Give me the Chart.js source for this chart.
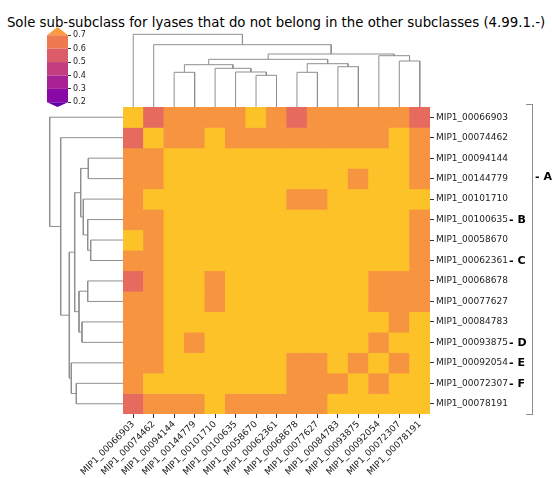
<!DOCTYPE html>
<html lang="en">
<head>
  <meta charset="UTF-8">
  <title>Sole sub-subclass for lyases (4.99.1.-)</title>
  <style>
    body { margin: 0; width: 552px; height: 478px; position: relative; background: #fff; overflow: hidden; font-family: "DejaVu Sans", sans-serif; }
    canvas { position: absolute; }
    #title { position: absolute; left: 0; top: 15px; width: 552px; line-height: 16px; text-align: center; font-size: 13.3px; color: #000; white-space: nowrap; }
    .tag { position: absolute; font-weight: bold; font-size: 11px; line-height: 12px; color: #000; white-space: nowrap; }
    #bracket { position: absolute; left: 526px; top: 104px; width: 6px; height: 309px; border: 1.3px solid #8c8c8c; border-left: none; }
  </style>
</head>
<body>
  <div id="title">Sole sub-subclass for lyases that do not belong in the other subclasses (4.99.1.-)</div>
  <canvas id="heat" style="left:0;top:0" width="552" height="478"></canvas>
  <canvas id="topTree" style="left:123px;top:30px" width="307" height="77"></canvas>
  <canvas id="leftTree" style="left:40px;top:107px" width="83" height="307"></canvas>
  <canvas id="cbar" style="left:47px;top:24px" width="60" height="89"></canvas>
  <div id="bracket"></div>
  <div class="tag" style="left:535px;top:171px">- A</div>
  <div class="tag" style="left:509px;top:214px">- B</div>
  <div class="tag" style="left:509px;top:255px">- C</div>
  <div class="tag" style="left:509px;top:337px">- D</div>
  <div class="tag" style="left:509px;top:357px">- E</div>
  <div class="tag" style="left:509px;top:378px">- F</div>

  <script src="https://cdn.jsdelivr.net/npm/chart.js"></script>
  <script>
    // leaf order (same for rows and columns)
    const names = ['MIP1_00066903','MIP1_00074462','MIP1_00094144','MIP1_00144779','MIP1_00101710',
                   'MIP1_00100635','MIP1_00058670','MIP1_00062361','MIP1_00068678','MIP1_00077627',
                   'MIP1_00084783','MIP1_00093875','MIP1_00092054','MIP1_00072307','MIP1_00078191'];

    // similarity values, one row per name
    const similarity = [
      [.75,.55,.65,.65,.65,.65,.75,.65,.55,.65,.65,.65,.65,.65,.55],
      [.55,.75,.65,.65,.75,.65,.65,.65,.65,.65,.65,.65,.65,.75,.65],
      [.65,.65,.75,.75,.75,.75,.75,.75,.75,.75,.75,.75,.75,.75,.65],
      [.65,.65,.75,.75,.75,.75,.75,.75,.75,.75,.75,.65,.75,.75,.65],
      [.65,.75,.75,.75,.75,.75,.75,.75,.65,.65,.75,.75,.75,.75,.75],
      [.65,.65,.75,.75,.75,.75,.75,.75,.75,.75,.75,.75,.75,.75,.65],
      [.75,.65,.75,.75,.75,.75,.75,.75,.75,.75,.75,.75,.75,.75,.65],
      [.65,.65,.75,.75,.75,.75,.75,.75,.75,.75,.75,.75,.75,.75,.65],
      [.55,.65,.75,.75,.65,.75,.75,.75,.75,.75,.75,.75,.65,.65,.65],
      [.65,.65,.75,.75,.65,.75,.75,.75,.75,.75,.75,.75,.65,.65,.65],
      [.65,.65,.75,.75,.75,.75,.75,.75,.75,.75,.75,.75,.75,.65,.75],
      [.65,.65,.75,.65,.75,.75,.75,.75,.75,.75,.75,.75,.65,.75,.75],
      [.65,.65,.75,.75,.75,.75,.75,.75,.65,.65,.75,.65,.75,.65,.75],
      [.65,.75,.75,.75,.75,.75,.75,.75,.65,.65,.65,.75,.65,.75,.75],
      [.55,.65,.65,.65,.75,.65,.65,.65,.65,.65,.75,.75,.75,.75,.75]
    ];

    // linkage: [childA, childB, distance]; leaves 0..14, new nodes from 15
    const colLinks = [[6,7,3.17],[2,3,3.47],[8,9,3.47],[5,15,3.50],[4,18,3.87],[10,11,4.03],[16,19,4.23],
                      [17,20,4.33],[13,14,4.60],[21,22,4.77],[12,23,5.13],[24,25,5.30],[1,26,6.23],[0,27,7.27]];
    const rowLinks = [[6,7,3.23],[2,3,3.47],[5,15,3.53],[8,9,3.53],[4,17,3.97],[10,11,4.10],[16,19,4.23],
                      [18,20,4.40],[13,14,4.67],[21,22,4.83],[12,23,5.17],[24,25,5.37],[1,26,6.23],[0,27,7.33]];

    // colour bar
    const cbTicks = [0.2, 0.3, 0.4, 0.5, 0.6, 0.7];
    const cbColors = ['#8a08a5', '#a82296', '#c43e7f', '#db5b69', '#ee7a52'];
    const cbUnder = '#6400a7';
    const cbOver = '#f99b3e';

    function cellColor(v) {
      if (v >= 0.7) return '#fcc228';
      if (v >= 0.6) return '#f7943f';
      return '#e66b5e';
    }

    const treeColor = '#8f8f8f';

    function treeSegments(links, n) {
      const pos = [], hgt = [];
      for (let i = 0; i < n; i++) { pos.push(i + 0.5); hgt.push(0); }
      const segs = [];
      links.forEach(([a, b, h]) => {
        segs.push([[pos[a], hgt[a]], [pos[a], h], [pos[b], h], [pos[b], hgt[b]]]);
        pos.push((pos[a] + pos[b]) / 2);
        hgt.push(h);
      });
      return segs;
    }

    const base = { responsive: false, animation: false, plugins: { legend: { display: false }, tooltip: { enabled: false } } };

    // heat map: one stacked bar dataset per row
    new Chart(document.getElementById('heat'), {
      type: 'bar',
      data: {
        labels: names,
        datasets: similarity.map((row, i) => ({
          label: names[i],
          data: row.map(() => 1),
          backgroundColor: row.map(cellColor),
          borderWidth: 0,
          barPercentage: 1,
          categoryPercentage: 1
        }))
      },
      options: {
        ...base,
        layout: { padding: { left: 123, top: 107, right: 0, bottom: 0 } },
        scales: {
          x: {
            stacked: true,
            afterFit: s => { s.height = 64; },
            grid: { offset: false, drawOnChartArea: false, tickLength: 4, color: '#333' },
            border: { display: false },
            ticks: { autoSkip: false, minRotation: 45, maxRotation: 45, padding: 1, color: '#222', font: { family: 'DejaVu Sans', size: 9 } }
          },
          y: {
            stacked: true,
            position: 'right',
            min: 0, max: 15, reverse: true,
            afterFit: s => { s.width = 122; },
            afterBuildTicks: s => { s.ticks = names.map((_, i) => ({ value: i + 0.5 })); },
            grid: { drawOnChartArea: false, tickLength: 4, color: '#333' },
            border: { display: false },
            ticks: { autoSkip: false, padding: 2, color: '#222', font: { family: 'DejaVu Sans', size: 9 },
                     callback: (v, i) => names[i] }
          }
        }
      }
    });

    // column dendrogram
    new Chart(document.getElementById('topTree'), {
      type: 'scatter',
      data: {
        datasets: treeSegments(colLinks, names.length).map(seg => ({
          data: seg.map(([p, h]) => ({ x: p, y: h })),
          showLine: true, pointRadius: 0, borderColor: treeColor, borderWidth: 1, clip: false
        }))
      },
      options: {
        ...base,
        layout: { padding: 0 },
        scales: {
          x: { type: 'linear', min: 0, max: 15, display: false },
          y: { type: 'linear', min: 0, max: 7.7, display: false }
        }
      }
    });

    // row dendrogram
    new Chart(document.getElementById('leftTree'), {
      type: 'scatter',
      data: {
        datasets: treeSegments(rowLinks, names.length).map(seg => ({
          data: seg.map(([p, h]) => ({ x: h, y: p })),
          showLine: true, pointRadius: 0, borderColor: treeColor, borderWidth: 1, clip: false
        }))
      },
      options: {
        ...base,
        layout: { padding: 0 },
        scales: {
          x: { type: 'linear', min: 0, max: 8.3, reverse: true, display: false },
          y: { type: 'linear', min: 0, max: 15, reverse: true, display: false }
        }
      }
    });

    // colour bar: bands and the two extension triangles
    const cbSets = cbColors.map((c, i) => ({
      data: [{ x: 0, y: cbTicks[i + 1] }, { x: 1, y: cbTicks[i + 1] }],
      fill: { value: cbTicks[i] }, backgroundColor: c, borderWidth: 0, pointRadius: 0, showLine: true
    }));
    cbSets.push({
      data: [{ x: 0, y: 0.7 }, { x: 0.5, y: 0.762 }, { x: 1, y: 0.7 }],
      fill: { value: 0.7 }, backgroundColor: cbOver, borderWidth: 0, pointRadius: 0, showLine: true
    });
    cbSets.push({
      data: [{ x: 0, y: 0.2 }, { x: 0.5, y: 0.165 }, { x: 1, y: 0.2 }],
      fill: { value: 0.2 }, backgroundColor: cbUnder, borderWidth: 0, pointRadius: 0, showLine: true
    });

    new Chart(document.getElementById('cbar'), {
      type: 'scatter',
      data: { datasets: cbSets },
      options: {
        ...base,
        layout: { padding: 0 },
        scales: {
          x: { type: 'linear', min: 0, max: 1, display: false },
          y: {
            type: 'linear', position: 'right', min: 0.12, max: 0.784,
            afterFit: s => { s.width = 39; s.paddingTop = 0; s.paddingBottom = 0; },
            afterBuildTicks: s => { s.ticks = cbTicks.map(v => ({ value: v })); },
            grid: { drawOnChartArea: false, tickLength: 3, color: '#333' },
            border: { display: false },
            ticks: { padding: 2, color: '#222', font: { family: 'DejaVu Sans', size: 8 }, callback: v => v.toFixed(1) }
          }
        }
      }
    });
  </script>
</body>
</html>
